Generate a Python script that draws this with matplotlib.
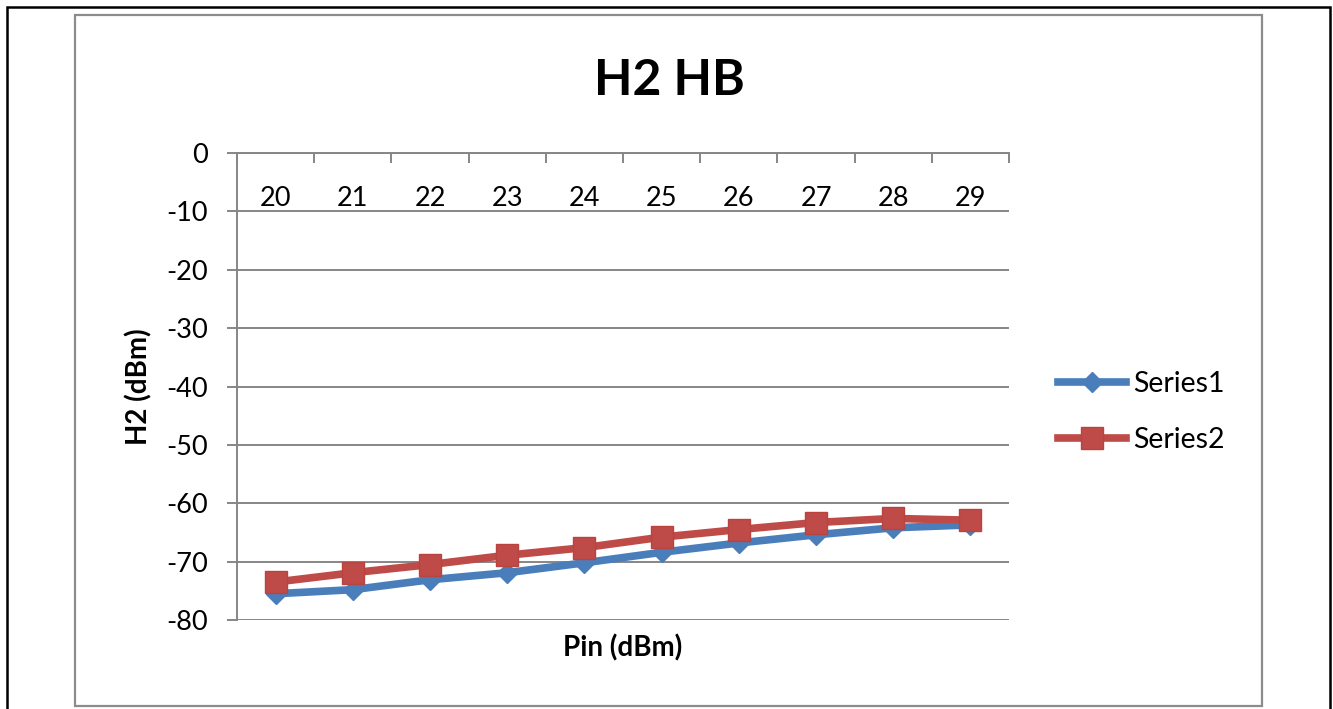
import matplotlib
matplotlib.use("Agg")
import matplotlib.pyplot as plt
from matplotlib.patches import Rectangle
from matplotlib.ticker import FixedLocator, NullFormatter, FixedFormatter

# Pin sweep (dBm) and measured second harmonic (dBm)
pin = [20, 21, 22, 23, 24, 25, 26, 27, 28, 29]
series1 = [-75.5, -74.8, -73.1, -71.9, -70.2, -68.4, -66.8, -65.4, -64.2, -63.7]
series2 = [-73.5, -71.9, -70.5, -68.9, -67.6, -65.8, -64.5, -63.3, -62.6, -62.9]
series_names = ["Series1", "Series2"]
y_ticks = [0, -10, -20, -30, -40, -50, -60, -70, -80]

plt.rcParams['font.family'] = ['Lato', 'DejaVu Sans']
plt.rcParams['axes.unicode_minus'] = False

GRID = '#868686'
BLUE = '#4A7EBB'
RED = '#BE4B48'

fig = plt.figure(figsize=(13.33, 7.09), dpi=100)

# chart area frame and outer page frame
fig.add_artist(Rectangle((0.0563, 0.0042), 0.8904, 0.9746, transform=fig.transFigure,
                         fill=False, edgecolor='#8c8c8c', linewidth=1.6))
fig.add_artist(Rectangle((0.0049, -0.05), 0.9928, 1.0408, transform=fig.transFigure,
                         fill=False, edgecolor='black', linewidth=1.8))

ax = fig.add_axes([0.1778, 0.1255, 0.5792, 0.6587])

idx = list(range(len(pin)))
ax.plot(idx, series1, color=BLUE, linewidth=5.5, marker='D', markersize=10.5,
        markerfacecolor=BLUE, markeredgecolor=BLUE, label=series_names[0])
ax.plot(idx, series2, color=RED, linewidth=5.5, marker='s', markersize=15.5,
        markerfacecolor=RED, markeredgecolor='#B8433F', markeredgewidth=1,
        label=series_names[1])

ax.set_xlim(-0.5, len(pin) - 0.5)
ax.set_ylim(-80, 0)

# category axis sits at y = 0, labels hang below it
for side in ['top', 'right']:
    ax.spines[side].set_visible(False)
ax.spines['bottom'].set_position(('data', 0))
ax.spines['bottom'].set_color(GRID)
ax.spines['bottom'].set_linewidth(1.4)
ax.spines['left'].set_color(GRID)
ax.spines['left'].set_linewidth(1.4)

ax.xaxis.set_major_locator(FixedLocator([i - 0.5 for i in range(len(pin) + 1)]))
ax.xaxis.set_major_formatter(NullFormatter())
ax.xaxis.set_minor_locator(FixedLocator(idx))
ax.xaxis.set_minor_formatter(FixedFormatter([str(p) for p in pin]))
ax.tick_params(axis='x', which='major', direction='out', length=7.2, width=1.4, color=GRID)
ax.tick_params(axis='x', which='minor', length=0, pad=23.5, labelsize=19.5)

ax.set_yticks(y_ticks)
ax.tick_params(axis='y', direction='out', length=7.2, width=1.4, color=GRID,
               pad=14, labelsize=19.5)
ax.yaxis.grid(True, color=GRID, linewidth=1.4)
ax.set_axisbelow(True)

ax.set_ylabel('H2 (dBm)', fontsize=20, fontweight='bold')
ax.yaxis.set_label_coords(-0.11, 0.5)
ax.set_xlabel('Pin (dBm)', fontsize=20, fontweight='bold')
ax.xaxis.set_label_coords(0.5, -0.03)

fig.text(0.502, 0.866, 'H2 HB', fontsize=36, fontweight='bold', ha='center', va='baseline')

ax.legend(loc='center left', bbox_to_anchor=(0.7937, 0.419), bbox_transform=fig.transFigure,
          frameon=False, fontsize=20.5, numpoints=1, handlelength=2.4,
          handletextpad=0.25, labelspacing=1.05, borderpad=0, borderaxespad=0)

fig.savefig('out.png', dpi=100)
